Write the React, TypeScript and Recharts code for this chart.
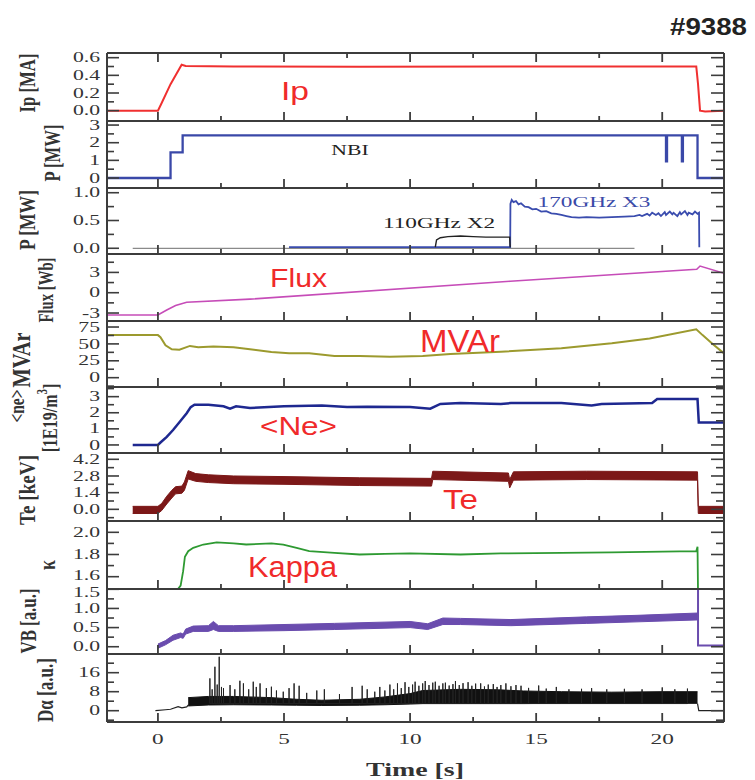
import { ComposedChart, Line, Area, XAxis, YAxis } from 'recharts';

type Pt = [number, number];
type Band = [number, number, number];

// shared time axis [s]
const TIME_DOMAIN: [number, number] = [-2.02, 22.45];
const TIME_TICKS = [0, 2.5, 5, 7.5, 10, 12.5, 15, 17.5, 20];
const TIME_LABELS = [0, 5, 10, 15, 20];

// plasma current [MA]
const ip: Pt[] = [
  [-2.02, 0], [0, 0], [0.12, 0.07], [0.5, 0.3], [0.94, 0.52], [1.1, 0.505], [3, 0.5],
  [8, 0.497], [14, 0.5], [21.35, 0.5], [21.42, 0.3], [21.5, 0.0], [21.7, -0.01], [22.45, 0.0],
];

// NBI power [MW]
const nbi: Pt[] = [
  [-2.02, 0], [0.5, 0], [0.5, 1.45], [0.98, 1.45], [0.98, 2.42], [20.15, 2.42], [20.15, 0.95],
  [20.19, 0.95], [20.19, 2.42], [20.78, 2.42], [20.78, 0.95], [20.82, 0.95], [20.82, 2.42],
  [21.4, 2.42], [21.4, 0], [22.45, 0],
];

// ECH power [MW]
const echBase: Pt[] = [[-1.0, 0.0], [18.9, 0.0]];
const ech110: Pt[] = [
  [11.0, 0.02], [11.05, 0.15], [11.2, 0.19], [11.5, 0.21], [12.0, 0.22], [12.5, 0.21],
  [13.0, 0.2], [13.95, 0.2], [13.97, 0.02],
];
const ech170: Pt[] = [
  [5.2, 0.02], [13.97, 0.02], [13.98, 0.8], [14.03, 0.87], [14.1, 0.83], [14.2, 0.85],
  [14.3, 0.79], [14.4, 0.81], [14.55, 0.75], [14.7, 0.74], [14.85, 0.7], [15.0, 0.71],
  [15.2, 0.66], [15.4, 0.67], [15.6, 0.63], [15.8, 0.62], [16.0, 0.6], [16.2, 0.58],
  [16.4, 0.56], [16.7, 0.55], [17, 0.56], [17.5, 0.55], [18, 0.56], [18.5, 0.57],
  [18.9, 0.58], [19.1, 0.6], [19.2, 0.58], [19.4, 0.62], [19.5, 0.59], [19.6, 0.64],
  [19.75, 0.6], [19.85, 0.63], [19.95, 0.58], [20.1, 0.65], [20.15, 0.6], [20.3, 0.66],
  [20.4, 0.61], [20.45, 0.64], [20.6, 0.58], [20.7, 0.65], [20.75, 0.61], [20.9, 0.67],
  [21.0, 0.6], [21.05, 0.64], [21.2, 0.61], [21.3, 0.66], [21.4, 0.62], [21.46, 0.64],
  [21.47, 0.02],
];

// poloidal flux [Wb]
const flux: Pt[] = [
  [-2.02, -3.3], [0, -3.3], [0.35, -2.55], [0.7, -1.9], [1.14, -1.42], [3.65, -0.95],
  [13.97, 1.7], [21.37, 3.46], [21.5, 3.94], [22.45, 2.87],
];

// reactive power [MVAr]
const mvar: Pt[] = [
  [-2.02, 63], [0, 63], [0.1, 60], [0.3, 48], [0.55, 42], [0.85, 41.5], [1.27, 47],
  [1.6, 45], [2.2, 46], [3.0, 45], [3.65, 42], [4.5, 38], [5.2, 36], [6, 36], [7, 32],
  [8, 32], [9.2, 31], [10.5, 32], [11.6, 35], [13.6, 38.5], [16, 43.5], [18, 51],
  [19.5, 58], [21.35, 71.6], [21.6, 63], [22.0, 50], [22.45, 36],
];

// line-averaged density [1E19/m3]
const ne: Pt[] = [
  [-1.0, 0], [0, 0], [0.1, 0.15], [0.35, 0.5], [0.6, 0.93], [0.9, 1.5], [1.14, 1.97],
  [1.3, 2.35], [1.45, 2.5], [2.0, 2.5], [2.6, 2.4], [2.86, 2.25], [3.1, 2.4], [3.65, 2.3],
  [5, 2.4], [6.5, 2.45], [7.5, 2.35], [8.3, 2.38], [10, 2.35], [10.8, 2.25], [11.2, 2.55],
  [12, 2.6], [13.6, 2.55], [14, 2.6], [16, 2.6], [17.2, 2.45], [17.6, 2.55], [19.6, 2.6],
  [19.8, 2.85], [21.4, 2.85], [21.45, 1.4], [22.45, 1.4],
];

// electron temperature [keV], noise envelope (t, low, high)
const te: Band[] = [
  [-1.0, -0.35, 0.25], [0, -0.35, 0.25], [0.15, -0.1, 0.5], [0.35, 0.45, 1.1],
  [0.55, 0.95, 1.6], [0.7, 1.3, 1.9], [0.95, 1.35, 1.95], [1.05, 1.6, 2.3],
  [1.2, 2.55, 3.25], [1.5, 2.35, 3.0], [2.0, 2.25, 2.9], [3.0, 2.15, 2.8], [5, 2.1, 2.75],
  [8, 2.0, 2.65], [10.85, 1.95, 2.6], [10.9, 2.5, 3.2], [13.9, 2.35, 3.05],
  [13.95, 1.8, 2.5], [14.1, 2.45, 3.15], [17, 2.5, 3.2], [21.4, 2.45, 3.15],
  [21.43, -0.35, 0.25], [22.45, -0.35, 0.25],
];

// elongation
const kappa: Pt[] = [
  [0.8, 1.49], [0.9, 1.52], [1.0, 1.65], [1.07, 1.78], [1.2, 1.83], [1.4, 1.86],
  [1.8, 1.89], [2.33, 1.91], [3.0, 1.9], [3.5, 1.89], [4.5, 1.9], [4.97, 1.89],
  [5.5, 1.86], [6.0, 1.83], [7, 1.815], [8, 1.8], [9, 1.805], [10, 1.81], [12, 1.8],
  [13.6, 1.81], [16, 1.815], [18, 1.82], [21.35, 1.83], [21.4, 1.87], [21.42, 1.45],
];

// visible bremsstrahlung [a.u.], noise envelope
const vb: Band[] = [
  [0, -0.04, 0.07], [0.3, 0.05, 0.16], [0.6, 0.17, 0.3], [0.9, 0.24, 0.36],
  [1.0, 0.22, 0.33], [1.1, 0.33, 0.46], [1.4, 0.4, 0.54], [2.0, 0.4, 0.55],
  [2.2, 0.45, 0.66], [2.4, 0.4, 0.55], [3.0, 0.4, 0.55], [5, 0.42, 0.58],
  [7, 0.45, 0.61], [10, 0.5, 0.66], [10.7, 0.45, 0.6], [11.3, 0.58, 0.75],
  [12, 0.58, 0.74], [14, 0.55, 0.71], [17, 0.61, 0.78], [19, 0.65, 0.82], [21.4, 0.7, 0.88],
];
const vbTail: Pt[] = [[21.42, 1.6], [21.42, 0.03], [22.45, 0.03]];

// D-alpha [a.u.]
const daRamp: Pt[] = [
  [-0.1, 0], [0.3, 0.4], [0.5, 0.6], [0.8, 1.7], [0.95, 1.2], [1.14, 1.6], [1.22, 2.6],
];
const daBand: Band[] = [
  [1.2, 2.0, 5.5], [2.0, 2.4, 6.0], [3, 2.5, 6.0], [4.5, 2.4, 5.5], [5.5, 2.3, 4.8],
  [6.5, 2.2, 4.4], [8, 2.3, 4.8], [9, 2.5, 5.8], [10, 2.8, 7.2], [10.5, 3.0, 8.5],
  [12, 3.0, 9.0], [13.5, 3.0, 8.8], [14.5, 3.0, 8.3], [16, 3.1, 8.0], [18, 3.1, 7.8],
  [20, 3.1, 8.0], [21.4, 3.1, 8.0],
];
const daTail: Pt[] = [[21.4, 3], [21.45, 0], [22.45, 0]];
const daSpikes: Pt[] = [
  [2.06, 13.6], [2.15, 9], [2.26, 18.5], [2.35, 11], [2.43, 22.7], [2.52, 10], [2.6, 9.5],
  [2.86, 10.8], [3.05, 9], [3.25, 12.6], [3.39, 11.5], [3.6, 9], [3.78, 12.2], [3.9, 10],
  [4.05, 11.5], [4.3, 9.5], [4.5, 10.1], [4.7, 8.5], [4.97, 8.0], [5.2, 9.5], [5.4, 11.5],
  [5.6, 10.5], [5.9, 7.5], [6.3, 8.5], [6.6, 9.0], [7.2, 7], [7.7, 10.0], [8.1, 10.5],
  [8.3, 9.0], [8.6, 8], [8.8, 10], [9.0, 8.5], [9.2, 11], [9.35, 9], [9.5, 11.5],
  [9.65, 9.5], [9.8, 12], [9.95, 10], [10.1, 11], [10.2, 12.2], [10.35, 10.5], [10.5, 11.5],
  [10.6, 12.5], [10.75, 10.8], [10.9, 11.8], [11.0, 12.2], [11.15, 10.5], [11.3, 11.5],
  [11.4, 11.8], [11.55, 10.6], [11.7, 11.2], [11.8, 12.5], [11.95, 10.8], [12.1, 11.6],
  [12.3, 12], [12.45, 10.5], [12.6, 11.4], [12.8, 11.5], [12.95, 10.2], [13.1, 11],
  [13.3, 11.2], [13.45, 10], [13.6, 10.8], [13.8, 11.5], [14.0, 10.3], [14.2, 10.8],
  [14.4, 10.5], [14.7, 9.6], [15.1, 10.6], [15.4, 9.3], [15.8, 10], [16.3, 9], [16.8, 9.2],
  [17.2, 9.5], [17.8, 9], [18.5, 9.2], [19.2, 9], [20.0, 9.8], [20.5, 9], [21.0, 9.3],
];

const AXIS = '#3c3c3c';
const SERIF = '"Liberation Serif", "Times New Roman", serif';
const SANS = '"Liberation Sans", Arial, sans-serif';
const RED = '#f02a2a';
const STRETCH = 1.55;
const TICK_FONT = 14;
const PLOT_LEFT = 107;
const PLOT_RIGHT = 724;

const rows = (pts: Pt[]) => pts.map(([t, v]) => ({ t, v }));
const bandRows = (pts: Band[]) => pts.map(([t, lo, hi]) => ({ t, r: [lo, hi] }));
const spikeRows = (pts: Pt[]) => pts.flatMap(([t, peak]) => [{ t, v: 3 }, { t, v: peak }, { t, v: 3 }]);

const near = (list: number[], v: number) => list.some((l) => Math.abs(l - v) < 1e-6);

interface PanelCfg {
  top: number;
  bottom: number;
  domain: [number, number];
  ticks: number[];
  labels: number[];
  digits: number;
  nudge?: [number, number]; // [tick value, dy] for a label sitting on the frame edge
}

const PANELS: Record<string, PanelCfg> = {
  ip: { top: 53, bottom: 121, domain: [-0.117, 0.653], ticks: [0, 0.1, 0.2, 0.3, 0.4, 0.5, 0.6], labels: [0, 0.2, 0.4, 0.6], digits: 1 },
  nbi: { top: 121, bottom: 188, domain: [-0.566, 3.23], ticks: [0, 0.5, 1, 1.5, 2, 2.5, 3], labels: [0, 1, 2, 3], digits: 0 },
  ech: { top: 188, bottom: 254, domain: [-0.103, 1.085], ticks: [0, 0.25, 0.5, 0.75, 1], labels: [0, 0.5, 1], digits: 1 },
  flux: { top: 254, bottom: 321, domain: [-4.18, 5.72], ticks: [-3, -1.5, 0, 1.5, 3, 4.5], labels: [-3, 0, 3], digits: 0 },
  mvar: { top: 321, bottom: 387, domain: [-13.8, 83.9], ticks: [-12.5, 0, 12.5, 25, 37.5, 50, 62.5, 75], labels: [0, 25, 50, 75], digits: 0 },
  ne: { top: 387, bottom: 453, domain: [-0.5, 3.6], ticks: [0, 0.5, 1, 1.5, 2, 2.5, 3, 3.5], labels: [0, 1, 2, 3], digits: 0 },
  te: { top: 453, bottom: 521, domain: [-0.98, 4.73], ticks: [-0.7, 0, 0.7, 1.4, 2.1, 2.8, 3.5, 4.2], labels: [0, 1.4, 2.8, 4.2], digits: 1 },
  kappa: { top: 521, bottom: 589, domain: [1.489, 2.102], ticks: [1.6, 1.7, 1.8, 1.9, 2.0], labels: [1.6, 1.8, 2.0], digits: 1, nudge: [1.6, -1] },
  vb: { top: 589, bottom: 654, domain: [-0.19, 1.508], ticks: [0, 0.25, 0.5, 0.75, 1, 1.25, 1.5], labels: [0, 0.5, 1, 1.5], digits: 1, nudge: [1.5, 3] },
  da: { top: 654, bottom: 722, domain: [-4.76, 23.87], ticks: [-4, 0, 4, 8, 12, 16, 20], labels: [0, 8, 16], digits: 0 },
};

const leftTick = (cfg: PanelCfg) => (p: any) => {
  const v = p.payload.value;
  const major = near(cfg.labels, v);
  const dy = cfg.nudge && near([cfg.nudge[0]], v) ? cfg.nudge[1] : 0;
  return (
    <g>
      <line x1={p.x} y1={p.y} x2={p.x + (major ? 12 : 7)} y2={p.y} stroke={AXIS} strokeWidth={1.6} />
      {major && (
        <text
          transform={`translate(${p.x - 7},${p.y + dy}) scale(${STRETCH},1)`}
          textAnchor="end"
          dominantBaseline="central"
          fontFamily={SERIF}
          fontSize={TICK_FONT}
          fill="#333"
        >
          {v.toFixed(cfg.digits)}
        </text>
      )}
    </g>
  );
};

const rightTick = (cfg: PanelCfg) => (p: any) => {
  const major = near(cfg.labels, p.payload.value);
  return <line x1={p.x - (major ? 13 : 8)} y1={p.y} x2={p.x} y2={p.y} stroke={AXIS} strokeWidth={1.6} />;
};

const bottomTick = (withText: boolean) => (p: any) => {
  const v = p.payload.value;
  const major = near(TIME_LABELS, v);
  return (
    <g>
      <line x1={p.x} y1={p.y} x2={p.x} y2={p.y - (major ? 9 : 5)} stroke={AXIS} strokeWidth={1.8} />
      {withText && major && (
        <text
          transform={`translate(${p.x},${p.y + 17}) scale(${STRETCH},1)`}
          textAnchor="middle"
          dominantBaseline="central"
          fontFamily={SERIF}
          fontSize={15}
          fill="#333"
        >
          {v}
        </text>
      )}
    </g>
  );
};

const topTick = (p: any) => {
  const major = near(TIME_LABELS, p.payload.value);
  return <line x1={p.x} y1={p.y} x2={p.x} y2={p.y + (major ? 9 : 5)} stroke={AXIS} strokeWidth={1.8} />;
};

function Panel({ cfg, first, last, children }: { cfg: PanelCfg; first?: boolean; last?: boolean; children: any }) {
  // generous padding so edge tick labels are not clipped by the svg
  const padTop = 10;
  const padBottom = last ? 40 : 10;
  const height = cfg.bottom - cfg.top + padTop + padBottom + 2;
  const axisLine = { stroke: AXIS, strokeWidth: 2 };
  return (
    <div style={{ position: 'absolute', left: 0, top: cfg.top - padTop - 1 }}>
      <ComposedChart
        width={755}
        height={height}
        margin={{ top: padTop, bottom: padBottom, left: PLOT_LEFT - 1, right: 755 - PLOT_RIGHT - 1 }}
      >
        <XAxis
          xAxisId="b" type="number" dataKey="t" domain={TIME_DOMAIN} allowDataOverflow
          ticks={TIME_TICKS} interval={0} height={1} tickSize={0} tickMargin={0}
          tickLine={false} axisLine={axisLine} tick={bottomTick(!!last)}
        />
        <XAxis
          xAxisId="t" orientation="top" type="number" dataKey="t" domain={TIME_DOMAIN} allowDataOverflow
          ticks={TIME_TICKS} interval={0} height={1} tickSize={0} tickMargin={0}
          tickLine={false} axisLine={axisLine} tick={first ? topTick : false}
        />
        <YAxis
          yAxisId="l" type="number" domain={cfg.domain} allowDataOverflow ticks={cfg.ticks}
          interval={0} width={1} tickSize={0} tickMargin={0} tickLine={false}
          axisLine={axisLine} tick={leftTick(cfg)}
        />
        <YAxis
          yAxisId="r" orientation="right" type="number" domain={cfg.domain} allowDataOverflow
          ticks={cfg.ticks} interval={0} width={1} tickSize={0} tickMargin={0} tickLine={false}
          axisLine={axisLine} tick={rightTick(cfg)}
        />
        {children}
      </ComposedChart>
    </div>
  );
}

const trace = (data: Pt[], color: string, width: number, key: string) => (
  <Line
    key={key} xAxisId="b" yAxisId="l" data={rows(data)} dataKey="v" type="linear"
    stroke={color} strokeWidth={width} dot={false} activeDot={false} isAnimationActive={false}
  />
);

const band = (data: Band[], color: string, key: string) => (
  <Area
    key={key} xAxisId="b" yAxisId="l" data={bandRows(data)} dataKey="r" type="linear"
    stroke={color} strokeWidth={1} fill={color} fillOpacity={1} dot={false} activeDot={false}
    isAnimationActive={false}
  />
);

const TITLES: { text: string; x: number; y: number; len: number; size: number }[] = [
  { text: 'Ip [MA]', x: 27, y: 83, len: 59, size: 17 },
  { text: 'P [MW]', x: 52, y: 153, len: 57, size: 17 },
  { text: 'P [MW]', x: 27, y: 220, len: 60, size: 17 },
  { text: 'Flux [Wb]', x: 46, y: 290, len: 65, size: 16 },
  { text: 'MVAr', x: 22, y: 360, len: 55, size: 19 },
  { text: '<ne>', x: 17, y: 406, len: 33, size: 16 },
  { text: 'Te [keV]', x: 27, y: 490, len: 70, size: 17 },
  { text: 'κ', x: 47, y: 565, len: 10, size: 17 },
  { text: 'VB [a.u.]', x: 28, y: 621, len: 65, size: 17 },
  { text: 'Dα [a.u.]', x: 45, y: 690, len: 64, size: 17 },
];

const TAGS: { text: string; x: number; y: number; len: number; size: number }[] = [
  { text: 'Ip', x: 281, y: 100, len: 28, size: 26 },
  { text: 'Flux', x: 270, y: 287, len: 57, size: 26 },
  { text: 'MVAr', x: 420, y: 352, len: 80, size: 31 },
  { text: '<Ne>', x: 260, y: 435, len: 77, size: 26 },
  { text: 'Te', x: 443, y: 509, len: 35, size: 28 },
  { text: 'Kappa', x: 248, y: 577, len: 89, size: 30 },
];

function Annotations() {
  return (
    <svg width={755} height={780} style={{ position: 'absolute', left: 0, top: 0, pointerEvents: 'none' }}>
      <text x={670} y={35} fontFamily={SANS} fontWeight="bold" fontSize={24} fill="#222" textLength={77} lengthAdjust="spacingAndGlyphs">
        #9388
      </text>
      {TITLES.map((t, i) => (
        <text
          key={i}
          transform={`translate(${t.x},${t.y}) rotate(-90) scale(1,1.3)`}
          textAnchor="middle"
          dominantBaseline="central"
          fontFamily={SERIF}
          fontWeight="bold"
          fontSize={t.size}
          fill="#333"
          textLength={t.len}
          lengthAdjust="spacingAndGlyphs"
        >
          {t.text}
        </text>
      ))}
      <text
        transform="translate(50,418) rotate(-90) scale(1,1.3)"
        textAnchor="middle"
        dominantBaseline="central"
        fontFamily={SERIF}
        fontWeight="bold"
        fontSize={16}
        fill="#333"
      >
        [1E19/m<tspan dy={-6} fontSize={11}>3</tspan><tspan dy={6}>]</tspan>
      </text>
      {TAGS.map((t, i) => (
        <text key={i} x={t.x} y={t.y} fontFamily={SANS} fontSize={t.size} fill={RED} textLength={t.len} lengthAdjust="spacingAndGlyphs">
          {t.text}
        </text>
      ))}
      <text transform={`translate(350,150) scale(${STRETCH},1)`} textAnchor="middle" dominantBaseline="central" fontFamily={SERIF} fontSize={14} fill="#222">
        NBI
      </text>
      <text transform={`translate(439,223) scale(${STRETCH},1)`} textAnchor="middle" dominantBaseline="central" fontFamily={SERIF} fontSize={15} fill="#222">
        110GHz X2
      </text>
      <text transform={`translate(594,202) scale(${STRETCH},1)`} textAnchor="middle" dominantBaseline="central" fontFamily={SERIF} fontSize={15} fill="#3a4aa8">
        170GHz X3
      </text>
      <text transform={`translate(415,770) scale(${STRETCH},1)`} textAnchor="middle" dominantBaseline="central" fontFamily={SERIF} fontWeight="bold" fontSize={18} fill="#333">
        Time [s]
      </text>
    </svg>
  );
}

export default function App() {
  return (
    <div style={{ position: 'absolute', left: 0, top: 0, width: 755, height: 780, background: '#fff' }}>
      <Panel cfg={PANELS.ip} first>
        {trace(ip, '#f03030', 2, 'ip')}
      </Panel>
      <Panel cfg={PANELS.nbi}>
        {trace(nbi, '#3a48a8', 2.3, 'nbi')}
      </Panel>
      <Panel cfg={PANELS.ech}>
        {[
          trace(echBase, '#8a8a8a', 1.2, 'base'),
          trace(ech170, '#3a4cae', 1.8, 'e170'),
          trace(ech110, '#222', 1.4, 'e110'),
        ]}
      </Panel>
      <Panel cfg={PANELS.flux}>
        {trace(flux, '#c64cb8', 1.6, 'flux')}
      </Panel>
      <Panel cfg={PANELS.mvar}>
        {trace(mvar, '#9c9a2e', 2, 'mvar')}
      </Panel>
      <Panel cfg={PANELS.ne}>
        {trace(ne, '#1e2890', 2.5, 'ne')}
      </Panel>
      <Panel cfg={PANELS.te}>
        {band(te, '#7c1818', 'te')}
      </Panel>
      <Panel cfg={PANELS.kappa}>
        {trace(kappa, '#2e9a32', 1.8, 'kappa')}
      </Panel>
      <Panel cfg={PANELS.vb}>
        {[band(vb, '#6a4cae', 'vb'), trace(vbTail, '#6a4cae', 2, 'vbTail')]}
      </Panel>
      <Panel cfg={PANELS.da} last>
        {[
          trace(daRamp, '#222', 1.2, 'ramp'),
          band(daBand, '#111', 'band'),
          <Line
            key="spikes" xAxisId="b" yAxisId="l" data={spikeRows(daSpikes)} dataKey="v" type="linear"
            stroke="#222" strokeWidth={1} dot={false} activeDot={false} isAnimationActive={false}
          />,
          trace(daTail, '#222', 1.2, 'tail'),
        ]}
      </Panel>
      <Annotations />
    </div>
  );
}
